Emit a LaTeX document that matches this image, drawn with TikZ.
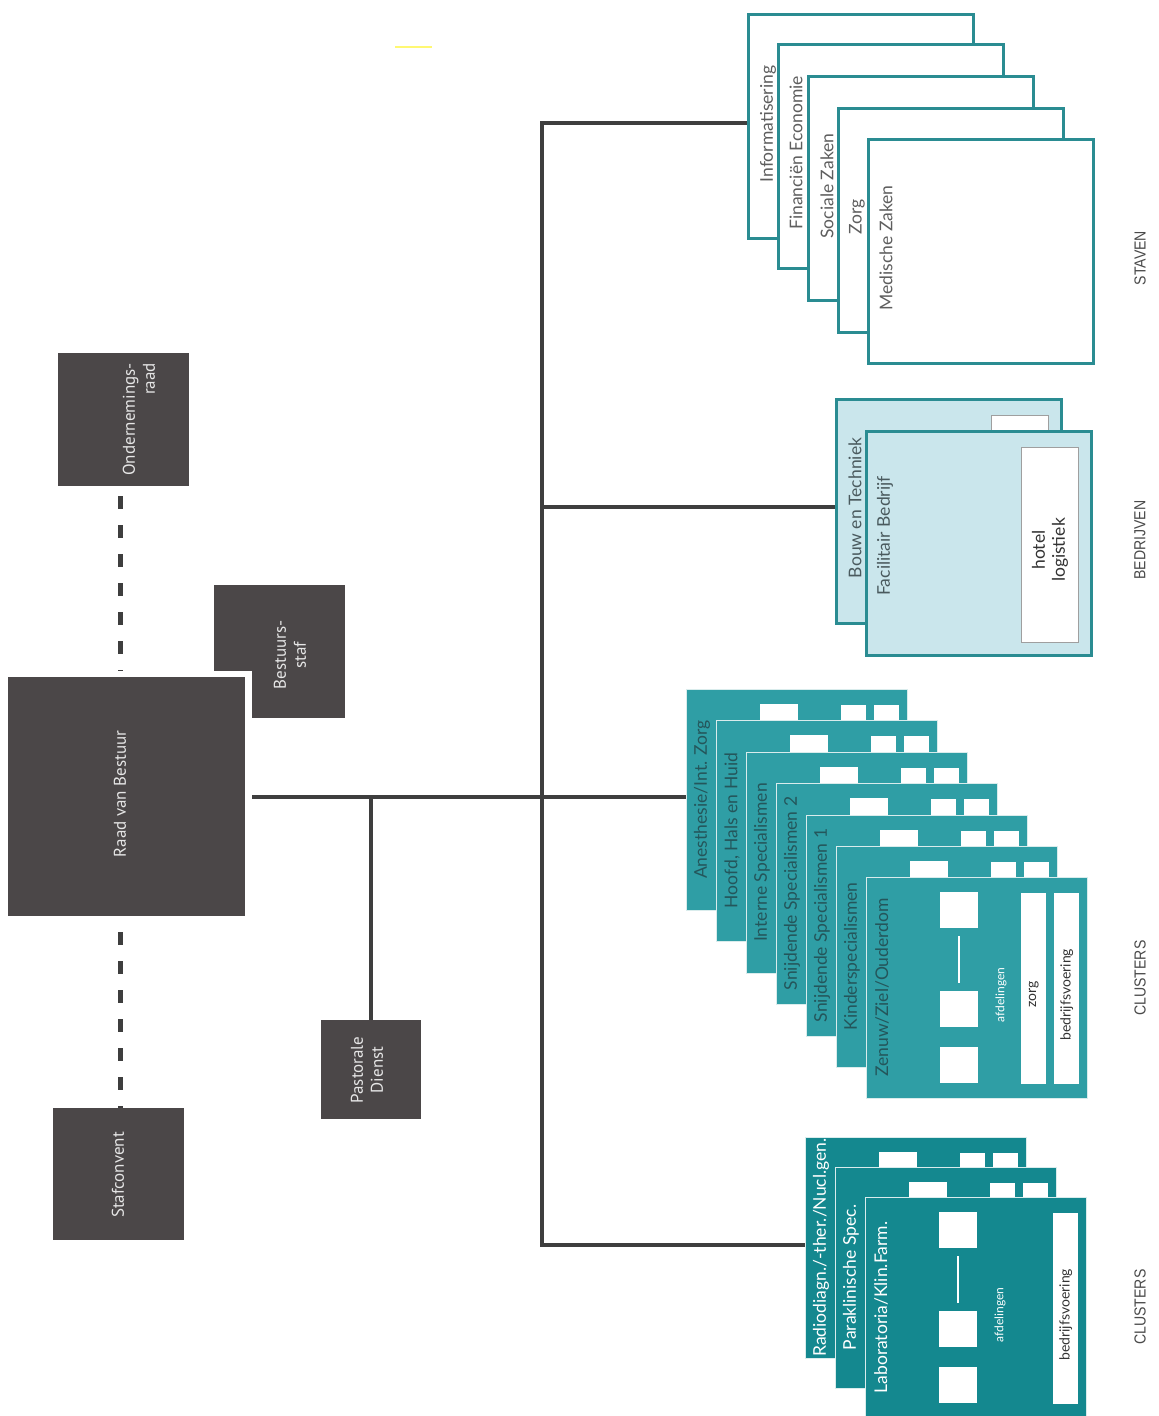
\documentclass[tikz,border=0pt]{standalone}
\usepackage{fontspec}
\usetikzlibrary{backgrounds}
\setmainfont{Lato}
\newfontfamily\boxfont{PT Sans}
\newfontfamily\condfont[FakeStretch=0.88]{Liberation Sans}
\definecolor{boxgrey}{HTML}{4B4748}
\definecolor{boxtxt}{HTML}{E6E6E6}
\definecolor{lineclr}{HTML}{3E3E3E}
\definecolor{tealb}{HTML}{2A8C92}
\definecolor{lightblue}{HTML}{CAE6EC}
\definecolor{clutop}{HTML}{2F9EA5}
\definecolor{clubot}{HTML}{14888F}
\definecolor{clulab}{HTML}{24565B}
\definecolor{stavtxt}{HTML}{5E5E5E}
\definecolor{bedtxt}{HTML}{4A5A5E}
\definecolor{sidetxt}{HTML}{4A4A4A}
\tikzset{
  darkbox/.style={fill=boxgrey, draw=none, inner sep=0pt, anchor=north west},
  boxtext/.style={text=boxtxt, font=\boxfont\fontsize{17}{20}\selectfont, rotate=90, inner sep=0pt},
  conn/.style={draw=lineclr, line width=4pt},
  dashconn/.style={draw=lineclr, line width=5pt, dash pattern=on 13pt off 16pt},
  stavcard/.style={draw=tealb, line width=2.5pt, fill=white, anchor=north west, inner sep=0pt, minimum width=225pt, minimum height=224pt},
  bedcard/.style={stavcard, fill=lightblue},
  innerbox/.style={fill=white, draw=gray!75, line width=1pt, anchor=north west, inner sep=0pt, minimum width=57pt, minimum height=195pt},
  cardlabel/.style={rotate=90, inner sep=0pt, font=\fontsize{17.5}{20}\selectfont},
  clucard/.style={draw=white!85!teal, line width=1.2pt, anchor=north west, inner sep=0pt, minimum width=221pt, minimum height=221pt},
  sqbox/.style={fill=white, draw=none, anchor=north west, inner sep=0pt, minimum width=38pt, minimum height=36pt},
  barbox/.style={fill=white, draw=none, anchor=north west, inner sep=0pt, minimum width=25pt, minimum height=191pt},
  sqline/.style={draw=white, line width=2.5pt},
  smalltxt/.style={rotate=90, inner sep=0pt, text=white, font=\fontsize{12}{14}\selectfont},
  bartxt/.style={rotate=90, inner sep=0pt, text=black!80, font=\fontsize{14}{16}\selectfont},
  sidelabel/.style={rotate=90, inner sep=0pt, text=sidetxt, font=\condfont\fontsize{16}{18}\selectfont},
}
\newcommand{\clucard}[7]{%
  \node[clucard, fill=#4] (#1) at (#2,#3) {};
  \begin{scope}[shift={(#2,#3)}]
    \node[sqbox] (#1q1) at (74,15) {};
    \node[sqbox] (#1q2) at (74,114) {};
    \node[sqbox] (#1q3) at (74,170) {};
    \draw[sqline] ([yshift=-8pt]#1q1.south) -- ([yshift=8pt]#1q2.north);
    \node[smalltxt] (#1af) at (135,118) {afdelingen};
    \ifnum#7=1
      \node[barbox] (#1zb) at (155,16) {};
      \node[bartxt] (#1zt) at ([yshift=-6pt]#1zb.center) {zorg};
    \fi
    \node[barbox] (#1bb) at (188,16) {};
    \node[bartxt] (#1bt) at ([yshift=-6pt]#1bb.center) {bedrijfsvoering};
    \node[cardlabel, text=#6] (#1l) at (16,110.5) {#5};
  \end{scope}
}
\begin{document}
\begin{tikzpicture}[x=1pt, y=-1pt, line join=miter]
\useasboundingbox (0,0) rectangle (1159,1416);

% stray yellow mark
\draw[yellow!55, line width=1.5pt] (395,47) -- (432,47);

% ---------- dark boxes ----------
\node[darkbox, minimum width=131pt, minimum height=133pt] (or) at (58,353) {};
\node[darkbox, minimum width=131pt, minimum height=133pt] (bst) at (214,585) {};
\node[darkbox, minimum width=131pt, minimum height=132pt] (sc) at (53,1108) {};
\node[darkbox, minimum width=100pt, minimum height=99pt] (pd) at (321,1020) {};
\node[darkbox, minimum width=237pt, minimum height=239pt, preaction={draw=white, line width=13pt}] (rvb) at (8,677) {};

\node[boxtext] (rvbT) at (120,794) {Raad van Bestuur};
\node[boxtext, align=right, anchor=east] (orT) at (139,363) {Ondernemings-\\raad};
\node[boxtext, align=center] (bstT) at (290,655) {Bestuurs-\\staf};
\node[boxtext] (scT) at (118,1175) {Stafconvent};
\node[boxtext, align=center] (pdT) at (367,1070) {Pastorale\\Dienst};

% ---------- STAVEN ----------
\node[stavcard] (s1) at (747,13) {};
\node[cardlabel, text=stavtxt] at ([shift={(21pt,-111pt)}]s1.north west) {Informatisering};
\node[stavcard] (s2) at (777,43) {};
\node[cardlabel, text=stavtxt] at ([shift={(19pt,-110pt)}]s2.north west) {Financiën Economie};
\node[stavcard] (s3) at (807,75) {};
\node[cardlabel, text=stavtxt] at ([shift={(20pt,-111pt)}]s3.north west) {Sociale Zaken};
\node[stavcard] (s4) at (837,107) {};
\node[cardlabel, text=stavtxt] at ([shift={(20pt,-110pt)}]s4.north west) {Zorg};
\node[stavcard] (s5) at (867,138) {};
\node[cardlabel, text=stavtxt] at ([shift={(19pt,-110pt)}]s5.north west) {Medische Zaken};

% ---------- BEDRIJVEN ----------
\node[bedcard] (b1) at (835,398) {};
\node[innerbox] (b1i) at ([shift={(156pt,-17pt)}]b1.north west) {};
\node[cardlabel, text=bedtxt] at ([shift={(20pt,-110pt)}]b1.north west) {Bouw en Techniek};
\node[bedcard] (b2) at (865,430) {};
\node[innerbox] (b2i) at ([shift={(156pt,-17pt)}]b2.north west) {};
\node[cardlabel, text=bedtxt] at ([shift={(20pt,-106pt)}]b2.north west) {Facilitair Bedrijf};
\node[cardlabel, text=black!80, align=center] (b2t) at ([yshift=-5pt]b2i.center) {hotel\\logistiek};

% ---------- CLUSTERS (top) ----------
\clucard{c1}{686}{689}{clutop}{Anesthesie/Int. Zorg}{clulab}{1}
\clucard{c2}{716}{720}{clutop}{Hoofd, Hals en Huid}{clulab}{1}
\clucard{c3}{746}{752}{clutop}{Interne Specialismen}{clulab}{1}
\clucard{c4}{776}{783}{clutop}{Snijdende Specialismen 2}{clulab}{1}
\clucard{c5}{806}{815}{clutop}{Snijdende Specialismen 1}{clulab}{1}
\clucard{c6}{836}{846}{clutop}{Kinderspecialismen}{clulab}{1}
\clucard{c7}{866}{877}{clutop}{Zenuw/Ziel/Ouderdom}{clulab}{1}

% ---------- CLUSTERS (bottom) ----------
\clucard{d1}{805}{1137}{clubot}{Radiodiagn./-ther./Nucl.gen.}{white}{1}
\clucard{d2}{835}{1167}{clubot}{Paraklinische Spec.}{white}{1}
\clucard{d3}{865}{1197}{clubot}{Laboratoria/Klin.Farm.}{white}{0}

% ---------- side labels ----------
\node[sidelabel] (lst) at (1140,258) {STAVEN};
\node[sidelabel] (lbe) at (1140,540) {BEDRIJVEN};
\node[sidelabel] (lc1) at (1140,978) {CLUSTERS};
\node[sidelabel] (lc2) at (1140,1307) {CLUSTERS};

% ---------- connectors (behind everything) ----------
\coordinate (dx) at (120,0);
\coordinate (tt) at (542,123);
\coordinate (tm) at (542,507);
\coordinate (tb) at (542,1245);
\begin{pgfonlayer}{background}
\fill[white] (0,0) rectangle (1159,1416);
\draw[conn] (rvb.east) -- (rvb.east -| c1.west);
\draw[conn] (rvb.east -| pd.north) -- (pd.north);
\draw[conn] (tt -| s1.west) -- (tt) -- (tb) -- (tb -| d1.west);
\draw[conn] (tm) -- (tm -| b1.west);
\draw[dashconn, dash phase=19pt] (or.south -| dx) -- ([yshift=6pt]rvb.north -| dx);
\draw[dashconn, dash phase=13pt] (rvb.south -| dx) -- (sc.north -| dx);
\end{pgfonlayer}
\end{tikzpicture}
\end{document}
